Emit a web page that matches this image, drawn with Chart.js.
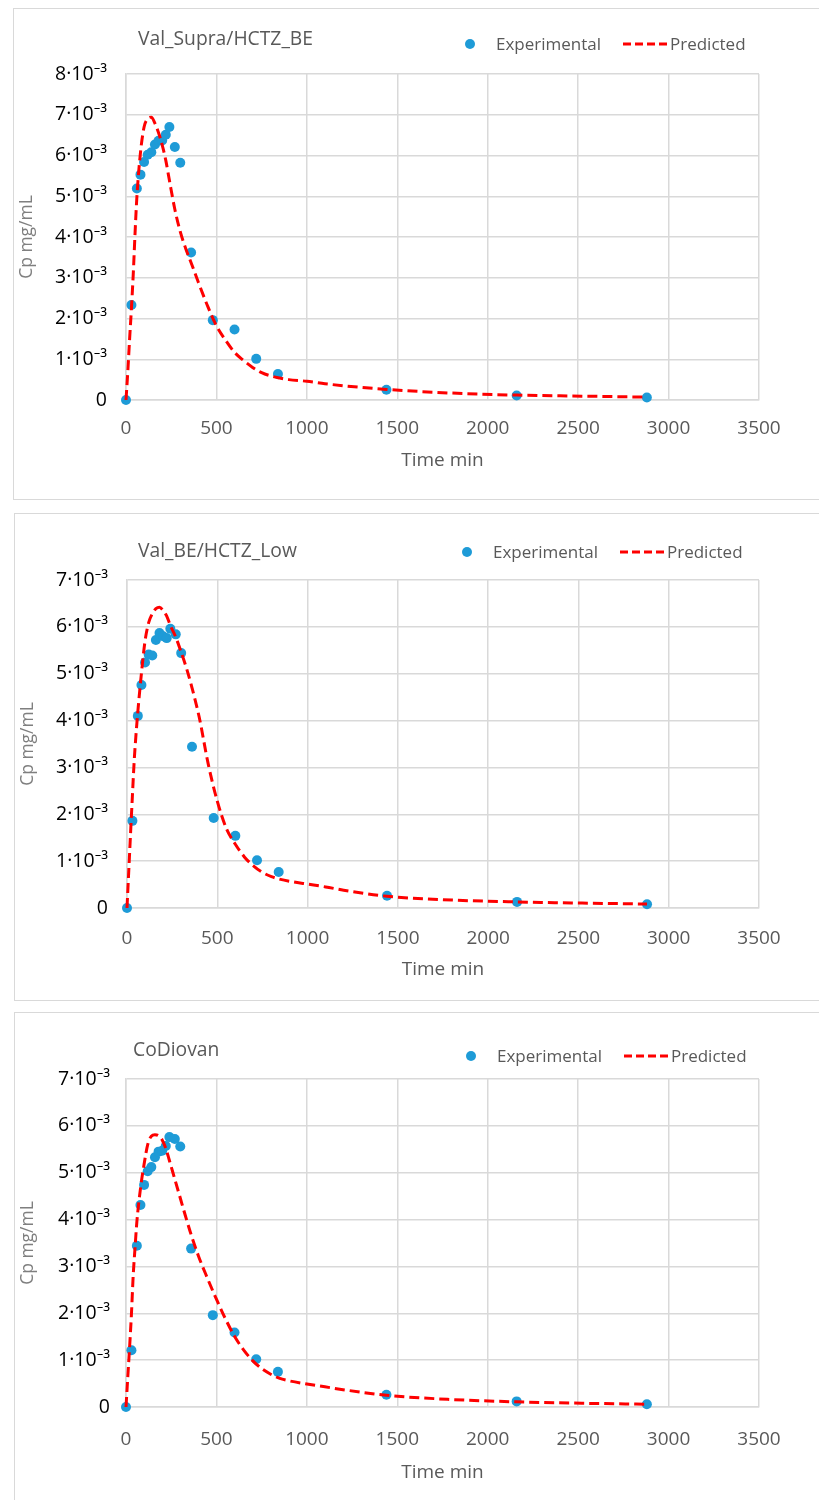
<!DOCTYPE html>
<html>
<head>
<meta charset="utf-8">
<script src="https://cdn.jsdelivr.net/npm/chart.js@4.4.1/dist/chart.umd.min.js"></script>
<style>
  html, body { margin: 0; padding: 0; background: #fff; overflow: hidden; }
  body { width: 819px; height: 1500px; position: relative; }
  .panel { position: absolute; border: 1px solid #d9d9d9; background: #fff; }
  .panel canvas { display: block; }
</style>
</head>
<body>
<div class="panel" style="left:13px; top:8px; width:830px; height:490px;"><canvas id="c1" width="805" height="490"></canvas></div>
<div class="panel" style="left:14px; top:513px; width:830px; height:486px;"><canvas id="c2" width="804" height="486"></canvas></div>
<div class="panel" style="left:14px; top:1012px; width:830px; height:500px;"><canvas id="c3" width="804" height="487"></canvas></div>
<script>
// sampling times (min) of the experimental points
const times = [0, 30, 60, 80, 100, 120, 140, 160, 180, 200, 220, 240, 270, 300, 360, 480, 600, 720, 840, 1440, 2160, 2880];
// Cp in units of 10^-3 mg/mL
const expSupra = [0, 2.33, 5.19, 5.53, 5.84, 6.02, 6.08, 6.27, 6.36, 6.37, 6.51, 6.70, 6.21, 5.82, 3.62, 1.96, 1.73, 1.01, 0.64, 0.25, 0.11, 0.06];
const expLow = [0, 1.86, 4.10, 4.76, 5.24, 5.41, 5.39, 5.72, 5.87, 5.80, 5.76, 5.96, 5.84, 5.44, 3.44, 1.92, 1.54, 1.02, 0.77, 0.26, 0.13, 0.08];
const expCoDiovan = [0, 1.21, 3.44, 4.31, 4.74, 5.03, 5.12, 5.33, 5.45, 5.47, 5.57, 5.76, 5.72, 5.56, 3.38, 1.96, 1.59, 1.02, 0.75, 0.26, 0.12, 0.06];

// predicted profile times (min)
const predTimes = [0, 10, 20, 30, 40, 50, 60, 80, 100, 120, 140, 160, 180, 200, 220, 240, 270, 300, 330, 360, 400, 450, 500, 550, 600, 650, 700, 750, 800, 850, 900, 1000, 1100, 1200, 1440, 1800, 2160, 2520, 2880];
const predSupra = [0, 0.70, 1.50, 2.25, 3.08, 4.09, 4.97, 6.07, 6.70, 6.90, 6.94, 6.79, 6.56, 6.26, 5.88, 5.39, 4.68, 4.13, 3.72, 3.37, 2.89, 2.32, 1.82, 1.47, 1.17, 0.97, 0.80, 0.67, 0.59, 0.54, 0.50, 0.46, 0.40, 0.35, 0.26, 0.17, 0.12, 0.095, 0.07];
const predLow = [0, 0.81, 1.62, 2.40, 3.15, 3.71, 4.19, 5.01, 5.70, 6.09, 6.28, 6.39, 6.42, 6.35, 6.23, 6.03, 5.78, 5.46, 5.11, 4.70, 4.07, 3.07, 2.28, 1.70, 1.36, 1.09, 0.90, 0.76, 0.67, 0.61, 0.57, 0.51, 0.45, 0.38, 0.25, 0.17, 0.13, 0.105, 0.085];
const predCoDiovan = [0, 0.65, 1.28, 1.98, 2.82, 3.40, 3.95, 4.66, 5.18, 5.60, 5.78, 5.81, 5.79, 5.70, 5.52, 5.26, 4.86, 4.46, 4.06, 3.68, 3.23, 2.75, 2.30, 1.88, 1.51, 1.22, 0.99, 0.82, 0.70, 0.61, 0.56, 0.49, 0.43, 0.37, 0.25, 0.16, 0.11, 0.08, 0.06];

const titles = ['Val_Supra/HCTZ_BE', 'Val_BE/HCTZ_Low', 'CoDiovan'];
const yMax = [8, 7, 7];
const yTickLabels = ['0', '1·10⁻³', '2·10⁻³', '3·10⁻³', '4·10⁻³', '5·10⁻³', '6·10⁻³', '7·10⁻³', '8·10⁻³'];
const xMax = 3500;
const xStep = 500;

const FONT = '"Open Sans", "Noto Sans", sans-serif';
const GRID = '#d9d9d9';
const BLUE = '#1e9bd7';
const RED = '#fe0000';

// title + legend row drawn at the top of each panel
const panelHeader = {
  id: 'panelHeader',
  afterDraw(chart, args, o) {
    const ctx = chart.ctx;
    const [expSet, predSet] = chart.data.datasets;
    ctx.save();
    ctx.fillStyle = '#595959';
    ctx.textBaseline = 'alphabetic';
    ctx.textAlign = 'left';
    ctx.font = '19.3px ' + FONT;
    ctx.fillText(o.title, o.titleX, o.titleY);

    const lx = o.legendX, ly = o.legendY;
    ctx.beginPath();
    ctx.arc(lx, ly, 5, 0, Math.PI * 2);
    ctx.fillStyle = expSet.backgroundColor;
    ctx.fill();
    ctx.font = '17px ' + FONT;
    ctx.fillStyle = '#595959';
    ctx.textBaseline = 'middle';
    ctx.fillText(expSet.label, lx + 26, ly + 1);

    ctx.beginPath();
    ctx.setLineDash([8, 4]);
    ctx.lineWidth = 3;
    ctx.strokeStyle = predSet.borderColor;
    ctx.moveTo(lx + 153, ly);
    ctx.lineTo(lx + 197, ly);
    ctx.stroke();
    ctx.setLineDash([]);
    ctx.fillText(predSet.label, lx + 200, ly + 1);
    ctx.restore();
  }
};

function makeChart(id, i, exp, pred, geo) {
  new Chart(document.getElementById(id), {
    type: 'scatter',
    data: {
      datasets: [
        {
          label: 'Experimental',
          data: times.map((t, k) => ({ x: t, y: exp[k] })),
          backgroundColor: BLUE,
          borderWidth: 0,
          pointRadius: 5,
          clip: false,
          order: 1
        },
        {
          label: 'Predicted',
          data: predTimes.map((t, k) => ({ x: t, y: pred[k] })),
          showLine: true,
          borderColor: RED,
          borderWidth: 3,
          borderDash: [10, 5],
          pointRadius: 0,
          cubicInterpolationMode: 'monotone',
          clip: false,
          order: 0
        }
      ]
    },
    options: {
      responsive: false,
      animation: false,
      devicePixelRatio: 1,
      layout: { padding: { left: 0, top: geo.top, right: 60, bottom: geo.bottom } },
      plugins: {
        legend: { display: false },
        tooltip: { enabled: false },
        panelHeader: { title: titles[i], titleX: geo.titleX, titleY: geo.titleY, legendX: geo.legendX, legendY: geo.legendY }
      },
      scales: {
        x: {
          type: 'linear',
          min: 0,
          max: xMax,
          ticks: {
            stepSize: xStep,
            padding: geo.xPad,
            color: '#595959',
            font: { family: FONT, size: 19 },
            callback: v => String(v)
          },
          grid: { color: GRID, lineWidth: 1.5, drawTicks: false },
          border: { color: GRID, width: 1.5 },
          title: { display: true, text: 'Time min', color: '#595959', font: { family: FONT, size: 19 }, padding: 0 },
          afterFit: s => { s.height = geo.xH; }
        },
        y: {
          type: 'linear',
          min: 0,
          max: yMax[i],
          ticks: {
            stepSize: 1,
            padding: geo.yPad,
            color: '#000',
            font: { family: FONT, size: 19.5 },
            callback: v => yTickLabels[Math.round(v)]
          },
          grid: { color: GRID, lineWidth: 1.5, drawTicks: false },
          border: { color: GRID, width: 1.5 },
          title: { display: true, text: 'Cp mg/mL', color: '#7f7f7f', font: { family: FONT, size: 17.5 }, padding: { top: 3, bottom: 0 } },
          afterFit: s => { s.width = geo.yW; }
        }
      }
    },
    plugins: [panelHeader]
  });
}

makeChart('c1', 0, expSupra, predSupra,
  { top: 65, bottom: 27, xH: 72, xPad: 17, yW: 112, yPad: 19, titleX: 124, titleY: 36, legendX: 456, legendY: 35 });
makeChart('c2', 1, expLow, predLow,
  { top: 66, bottom: 19, xH: 73, xPad: 19, yW: 112, yPad: 19, titleX: 123, titleY: 43, legendX: 452, legendY: 38 });
makeChart('c3', 2, expCoDiovan, predCoDiovan,
  { top: 66, bottom: 16, xH: 77, xPad: 21, yW: 111, yPad: 16, titleX: 118, titleY: 43, legendX: 456, legendY: 43 });
</script>
</body>
</html>
